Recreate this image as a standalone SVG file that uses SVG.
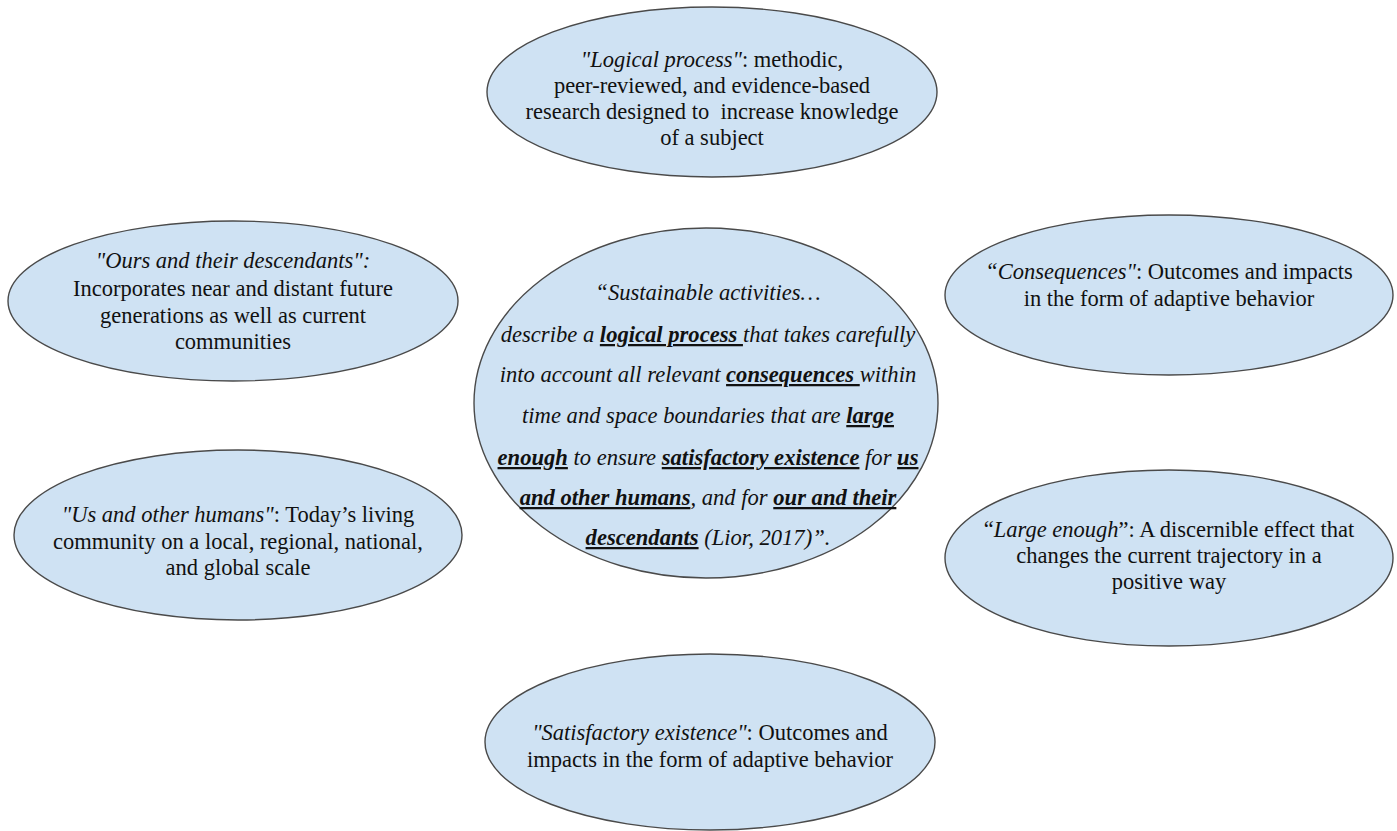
<svg xmlns="http://www.w3.org/2000/svg" width="1397" height="831" viewBox="0 0 1397 831">
<style>
.bub{fill:#cfe2f3;stroke:#4a4a4a;stroke-width:1.4}
text{font-size:22.5px;fill:#111;text-anchor:middle}
.i{font-style:italic}
.c{font-style:italic;font-size:22.6px}
.b{font-weight:bold;text-decoration:underline}
</style>
<rect width="1397" height="831" fill="#fff"/>
<g id="connectors"></g>
<g font-family="Liberation Serif, DejaVu Serif, serif">
<g id="n-logical">
<ellipse class="bub" cx="712" cy="92" rx="225" ry="85"/>
<text x="712" y="67"><tspan class="i">"Logical process"</tspan>: methodic,</text>
<text x="712" y="93">peer-reviewed, and evidence-based</text>
<text x="712" y="119" xml:space="preserve">research designed to  increase knowledge</text>
<text x="712" y="145">of a subject</text>
</g>
<g id="n-ours">
<ellipse class="bub" cx="233" cy="301" rx="225" ry="80"/>
<text x="233" y="268"><tspan class="i">"Ours and their descendants":</tspan></text>
<text x="233" y="296">Incorporates near and distant future</text>
<text x="233" y="323">generations as well as current</text>
<text x="233" y="349">communities</text>
</g>
<g id="n-us">
<ellipse class="bub" cx="238" cy="535" rx="224" ry="85"/>
<text x="238" y="522"><tspan class="i">"Us and other humans"</tspan>: Today’s living</text>
<text x="238" y="549">community on a local, regional, national,</text>
<text x="238" y="575">and global scale</text>
</g>
<g id="n-center">
<ellipse class="bub" cx="706" cy="403" rx="232" ry="175"/>
<text class="c" x="708" y="300">“Sustainable activities…</text>
<text class="c" x="708" y="342">describe a <tspan class="b" xml:space="preserve">logical process </tspan>that takes carefully</text>
<text class="c" x="708" y="382">into account all relevant <tspan class="b" xml:space="preserve">consequences </tspan>within</text>
<text class="c" x="708" y="423">time and space boundaries that are <tspan class="b">large</tspan></text>
<text class="c" x="708" y="465"><tspan class="b">enough</tspan> to ensure <tspan class="b">satisfactory existence</tspan> for <tspan class="b">us</tspan></text>
<text class="c" x="708" y="505"><tspan class="b">and other humans</tspan>, and for <tspan class="b">our and their</tspan></text>
<text class="c" x="708" y="545"><tspan class="b">descendants</tspan> (Lior, 2017)”.</text>
</g>
<g id="n-consequences">
<ellipse class="bub" cx="1169" cy="295" rx="224" ry="80"/>
<text x="1169" y="279"><tspan class="i">“Consequences"</tspan>: Outcomes and impacts</text>
<text x="1169" y="306">in the form of adaptive behavior</text>
</g>
<g id="n-large">
<ellipse class="bub" cx="1169" cy="558" rx="224" ry="88"/>
<text x="1169" y="537">“<tspan class="i">Large enough</tspan>”: A discernible effect that</text>
<text x="1169" y="563">changes the current trajectory in a</text>
<text x="1169" y="589">positive way</text>
</g>
<g id="n-satisfactory">
<ellipse class="bub" cx="710" cy="742" rx="225" ry="88"/>
<text x="710" y="740"><tspan class="i">"Satisfactory existence"</tspan>: Outcomes and</text>
<text x="710" y="767">impacts in the form of adaptive behavior</text>
</g>
</g>
</svg>
